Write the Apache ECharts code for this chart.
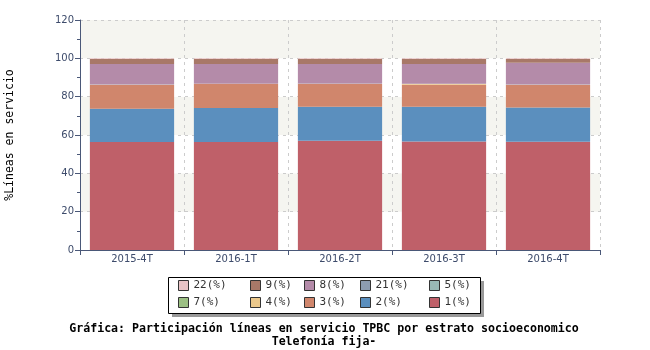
<!DOCTYPE html>
<html>
<head>
<meta charset="utf-8">
<script src="https://cdn.jsdelivr.net/npm/echarts@6/dist/echarts.min.js"></script>
<style>
html,body{margin:0;padding:0;background:#fff;}
#chart{width:650px;height:350px;}
</style>
</head>
<body>
<div id="chart"></div>
<script>
// periodos
var categorias = ['2015-4T', '2016-1T', '2016-2T', '2016-3T', '2016-4T'];
// estratos (% lineas), de abajo hacia arriba
var e1  = [56.3, 56.3, 57.0, 56.6, 56.5];
var e2  = [17.4, 17.8, 17.8, 18.2, 17.8];
var e3  = [12.4, 12.5, 11.9, 11.4, 11.8];
var e4  = [0.1, 0.1, 0.1, 0.4, 0.1];
var e7  = [0.0, 0.0, 0.0, 0.0, 0.0];
var e5  = [0.0, 0.0, 0.0, 0.0, 0.0];
var e21 = [0.1, 0.1, 0.1, 0.1, 0.1];
var e8  = [10.8, 10.3, 10.2, 10.3, 11.4];
var e9  = [2.6, 2.6, 2.6, 2.7, 2.0];
var e22 = [0.3, 0.3, 0.3, 0.3, 0.3];
var yTicks = [0, 20, 40, 60, 80, 100, 120];
var leyenda = ['22(%)', '9(%)', '8(%)', '21(%)', '5(%)', '7(%)', '4(%)', '3(%)', '2(%)', '1(%)'];

var chart = echarts.init(document.getElementById('chart'));

function serie(nombre, datos, color) {
    return {
        name: nombre,
        type: 'bar',
        stack: 'total',
        barCategoryGap: '19%',
        itemStyle: { color: color },
        data: datos
    };
}

// una leyenda por item para alinear las columnas
var colX = [178, 250, 304, 360, 429];
var filaY = [280, 297];
var leyendas = leyenda.map(function (nombre, i) {
    return {
        left: colX[i % 5],
        top: filaY[Math.floor(i / 5)],
        padding: 0,
        itemWidth: 10,
        itemHeight: 10,
        itemGap: 0,
        icon: 'rect',
        itemStyle: { borderColor: '#333', borderWidth: 1 },
        textStyle: { fontFamily: 'DejaVu Sans Mono', fontSize: 11, color: '#333' },
        data: [nombre]
    };
});

var option = {
    animation: false,
    backgroundColor: '#fff',
    title: {
        text: 'Gráfica: Participación líneas en servicio TPBC por estrato socioeconomico\nTelefonía fija-',
        left: 319,
        top: 317,
        textAlign: 'center',
        textStyle: {
            fontFamily: 'DejaVu Sans Mono',
            fontWeight: 'bold',
            fontSize: 11.6,
            lineHeight: 13,
            color: '#000'
        }
    },
    graphic: [
        { type: 'rect', z: 1, shape: { x: 172, y: 281, width: 312, height: 36 }, style: { fill: '#999' } },
        { type: 'rect', z: 1, shape: { x: 168.5, y: 277.5, width: 312, height: 36 }, style: { fill: '#fff', stroke: '#000', lineWidth: 1 } }
    ],
    legend: leyendas,
    grid: { left: 80, right: 50, top: 20, bottom: 100, outerBoundsMode: 'none' },
    xAxis: {
        type: 'category',
        data: categorias,
        axisLine: { lineStyle: { color: '#4a5878', width: 1 } },
        axisTick: { show: true, length: 5, lineStyle: { color: '#4a5878' } },
        axisLabel: { fontFamily: 'DejaVu Sans', fontSize: 10, color: '#3d4b6b', margin: 4 },
        splitLine: { show: true, lineStyle: { color: '#cccccc', type: [3, 4] } }
    },
    yAxis: {
        type: 'value',
        min: yTicks[0],
        max: yTicks[yTicks.length - 1],
        interval: 20,
        name: '%Líneas en servicio',
        nameLocation: 'middle',
        nameGap: 64,
        nameTextStyle: { fontFamily: 'DejaVu Sans Mono', fontSize: 11.5, color: '#000' },
        axisLine: { show: true, lineStyle: { color: '#4a5878', width: 1 } },
        axisTick: { show: true, length: 5, lineStyle: { color: '#4a5878' } },
        minorTick: { show: true, splitNumber: 2, length: 3, lineStyle: { color: '#4a5878' } },
        axisLabel: { fontFamily: 'DejaVu Sans', fontSize: 10, color: '#3d4b6b', margin: 6 },
        splitLine: { show: true, lineStyle: { color: '#cccccc', type: [3, 4] } },
        splitArea: { show: true, areaStyle: { color: ['#ffffff', '#f5f5f0'] } }
    },
    series: [
        serie('1(%)', e1, '#bf6069'),
        serie('2(%)', e2, '#5b8fbe'),
        serie('3(%)', e3, '#d0866c'),
        serie('4(%)', e4, '#ecc98c'),
        serie('7(%)', e7, '#9cc084'),
        serie('5(%)', e5, '#98b9b6'),
        serie('21(%)', e21, '#8d9cb0'),
        serie('8(%)', e8, '#b48ba9'),
        serie('9(%)', e9, '#a87868'),
        serie('22(%)', e22, '#e8c4c6')
    ]
};
chart.setOption(option);
</script>
</body>
</html>
